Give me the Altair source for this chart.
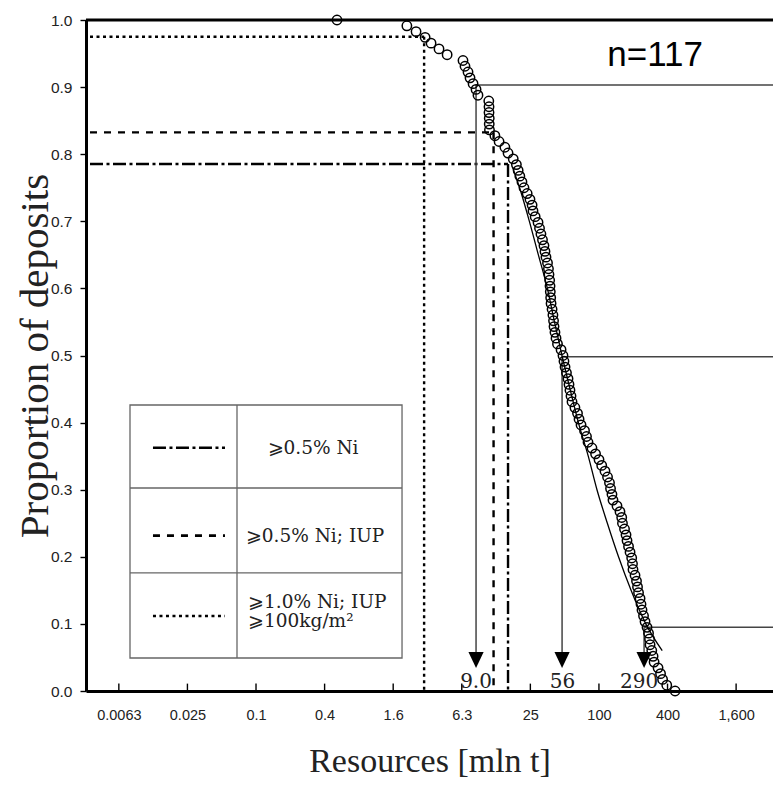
import altair as alt
import pandas as pd

# ---------------- data ----------------
resources = [0.514, 2.11, 2.54, 3.05, 3.44, 4.04, 4.76, 6.56, 6.83, 7.26,
             7.56, 8.04, 8.54, 8.88, 11.05, 11.1, 11.1, 11.15, 11.15, 11.2,
             12.5, 13.6, 15.3, 16.3, 18.1, 19.3, 20.0, 20.7, 21.6, 22.5,
             24.0, 25.4, 26.5, 27.0, 28.2, 29.9, 30.8, 31.7, 32.7, 33.7,
             34.4, 35.1, 36.2, 36.9, 37.3, 37.8, 38.1, 38.3, 38.6, 38.9,
             39.7, 40.4, 40.9, 41.3, 42.1, 43.0, 44.3, 47.6, 49.5, 50.5,
             51.6, 53.1, 54.8, 55.9, 57.0, 58.2, 59.4, 63.0, 66.4, 68.5,
             71.3, 76.5, 79.6, 82.1, 88.9, 95.6, 102.5, 108.3, 115.7, 121.8,
             126.7, 129.4, 133.2, 136.0, 147.5, 156.7, 162.2, 164.7, 171.7, 177.0,
             180.6, 186.2, 192.0, 198.5, 201.7, 203.8, 212.3, 218.8, 223.3, 227.9,
             235.0, 239.6, 244.5, 252.1, 259.9, 270.6, 279.0, 284.8, 287.7, 297.8,
             305.8, 312.1, 338.1, 355.7, 370.6, 403.2, 477.3]

fit_p = [0.78, 0.75, 0.70, 0.65, 0.60, 0.55, 0.50, 0.45, 0.40, 0.35, 0.30, 0.25, 0.20, 0.15, 0.10, 0.06]
fit_x = [17.9, 20.6, 25.1, 30.1, 36.1, 41.7, 48.5, 57.1, 67.6, 82.5, 98.4, 121.4, 152.1, 196.0, 264.0, 368.0]

pct_level = [0.903, 0.498, 0.095]
pct_x = [8.54, 48.6, 255.0]
pct_text = ["9.0", "56", "290"]
pct_text_x = [8.54, 49.1, 230.5]

crit_style = ["dashdot", "dashed", "dotted"]
crit_label = ["⩾0.5% Ni", "⩾0.5% Ni; IUP", "⩾1.0% Ni; IUP"]
crit_x = [16.3, 12.17, 2.99]
crit_p = [0.7854, 0.8326, 0.975]
dash_patterns = [[13, 3.5, 3, 3.5], [7, 7], [3, 3.5]]

tick_values = [0.00625, 0.025, 0.1, 0.4, 1.6, 6.4, 25.6, 102.4, 409.6, 1638.4]
tick_labels = ["0.0063", "0.025", "0.1", "0.4", "1.6", "6.3", "25", "100", "400", "1,600"]
y_ticks = [0.0, 0.1, 0.2, 0.3, 0.4, 0.5, 0.6, 0.7, 0.8, 0.9, 1.0]

x_domain = [0.003218, 3453.0]

# legend box (data coordinates)
box_x = [0.007831, 0.06809, 1.913]
box_y = [0.0492, 0.1759, 0.3025, 0.4262]
legend_sample_x = [0.01246, 0.05341]
legend_sample_y = [0.3626, 0.2315, 0.1118]

# ---------------- chart ----------------
SERIF = "Liberation Serif"
SANS = "Liberation Sans"
XS = alt.Scale(type="log", domain=x_domain, nice=False, zero=False)
YS = alt.Scale(domain=[0, 1], nice=False, zero=False)

label_expr = "".join(
    f"abs(datum.value/{v}-1) < 0.01 ? '{l}' : " for v, l in zip(tick_values, tick_labels)
) + "''"
XA = alt.Axis(values=tick_values, labelExpr=label_expr, ticks=False,
              title="Resources [mln t]", grid=False)
YA = alt.Axis(values=y_ticks, format=".1f", title="Proportion of deposits", grid=False)


def X(f):
    return alt.X(f, type="quantitative", scale=XS, axis=XA)


def Y(f):
    return alt.Y(f, type="quantitative", scale=YS, axis=YA)


pts_df = pd.DataFrame({"resources": resources})
points = (
    alt.Chart(pts_df)
    .transform_window(rank="row_number()", sort=[alt.SortField("resources", order="ascending")])
    .transform_joinaggregate(n="count()")
    .transform_calculate(p="(datum.n - datum.rank) / (datum.n - 1)")
    .mark_point(shape="circle", filled=False, color="black", strokeWidth=1.5, size=88, opacity=1)
    .encode(x=X("resources"), y=Y("p"))
)

fit_df = pd.DataFrame({"x": fit_x, "p": fit_p})
fit = alt.Chart(fit_df).mark_line(color="black", strokeWidth=1.3, interpolate="monotone").encode(
    x=X("x"), y=Y("p"))

pct_df = pd.DataFrame({"x": pct_x, "p": pct_level, "x_end": [x_domain[1]] * 3,
                       "p_arrow": [0.058] * 3, "p_head": [0.0462] * 3,
                       "label": pct_text, "lx": pct_text_x, "lp": [0.0134] * 3})
pct_h = alt.Chart(pct_df).mark_rule(color="#444444", strokeWidth=1.5).encode(
    x=X("x"), x2="x_end:Q", y=Y("p"))
pct_v = alt.Chart(pct_df).mark_rule(color="#444444", strokeWidth=1.5).encode(
    x=X("x"), y=Y("p"), y2="p_arrow:Q")
pct_head = alt.Chart(pct_df).mark_point(shape="M-0.95,-1L0.95,-1L0,1Z", filled=True, color="black",
                                        size=256, opacity=1).encode(x=X("x"), y=Y("p_head"))
pct_lab = alt.Chart(pct_df).mark_text(font="DejaVu Serif", fontSize=20, color="#222222",
                                      baseline="middle").encode(
    x=X("lx"), y=Y("lp"), text="label:N")

crit_df = pd.DataFrame({"style": crit_style, "x": crit_x, "p": crit_p,
                        "x0": [0.003489] * 3, "p0": [0.0] * 3})
dash_scale = alt.Scale(domain=crit_style, range=dash_patterns)
crit_h = alt.Chart(crit_df).mark_rule(color="black", strokeWidth=2.4).encode(
    x=X("x0"), x2="x:Q", y=Y("p"),
    strokeDash=alt.StrokeDash("style:N", scale=dash_scale, legend=None))
crit_v = alt.Chart(crit_df).mark_rule(color="black", strokeWidth=2.4).encode(
    x=X("x"), y=Y("p"), y2="p0:Q",
    strokeDash=alt.StrokeDash("style:N", scale=dash_scale, legend=None))

# x-axis inward tick marks
tick_df = pd.DataFrame({"x": tick_values, "p0": [0.0] * len(tick_values), "p1": [0.011] * len(tick_values)})
xticks = alt.Chart(tick_df).mark_rule(color="black", strokeWidth=1.4).encode(
    x=X("x"), y=Y("p0"), y2="p1:Q")

top_df = pd.DataFrame({"p": [1.0]})
top = alt.Chart(top_df).mark_rule(color="black", strokeWidth=3).encode(y=Y("p"))

# legend box
box_df = pd.DataFrame({"x0": [box_x[0]], "x1": [box_x[2]], "y0": [box_y[0]], "y1": [box_y[3]]})
box = alt.Chart(box_df).mark_rect(fill="white", stroke="#666666", strokeWidth=1.3).encode(
    x=X("x0"), x2="x1:Q", y=Y("y0"), y2="y1:Q")
div_df = pd.DataFrame({
    "x0": [box_x[1], box_x[0], box_x[0]], "x1": [box_x[1], box_x[2], box_x[2]],
    "y0": [box_y[0], box_y[1], box_y[2]], "y1": [box_y[3], box_y[1], box_y[2]]})
dividers = alt.Chart(div_df).mark_rule(color="#666666", strokeWidth=1.3).encode(
    x=X("x0"), x2="x1:Q", y=Y("y0"), y2="y1:Q")
leg_df = pd.DataFrame({"style": crit_style, "x0": [legend_sample_x[0]] * 3,
                       "x1": [legend_sample_x[1]] * 3, "p": legend_sample_y})
leg_lines = alt.Chart(leg_df).mark_rule(color="black", strokeWidth=2.6).encode(
    x=X("x0"), x2="x1:Q", y=Y("p"),
    strokeDash=alt.StrokeDash("style:N", scale=dash_scale, legend=None))

leg_c_df = pd.DataFrame({"t": crit_label[:2], "x": [0.3166, 0.3296], "p": [0.3626, 0.2315]})
leg_c = alt.Chart(leg_c_df).mark_text(font="DejaVu Serif", fontSize=18.5, color="#222222", align="center",
                                      baseline="middle").encode(
    x=X("x"), y=Y("p"), text="t:N")
leg_l_df = pd.DataFrame({"t": [crit_label[2], "⩾100kg/m²"], "x": [0.08507, 0.08507], "p": [0.1326, 0.1043]})
leg_l = alt.Chart(leg_l_df).mark_text(font="DejaVu Serif", fontSize=18.5, color="#222222", align="left",
                                      baseline="middle").encode(
    x=X("x"), y=Y("p"), text="t:N")

n_df = pd.DataFrame({"t": ["n=117"], "x": [318.6], "p": [0.948]})
n_text = alt.Chart(n_df).mark_text(font="Liberation Sans Narrow, Liberation Sans", fontSize=35,
                                   color="black", align="center", baseline="middle").encode(
    x=X("x"), y=Y("p"), text="t:N")

chart = (
    alt.layer(box, dividers, leg_lines, leg_c, leg_l,
              crit_h, crit_v, pct_h, pct_v, fit, points, pct_head, pct_lab, xticks, top, n_text)
    .properties(width=687, height=671,
                autosize=alt.AutoSizeParams(type="none"),
                padding={"left": 78, "top": 12, "right": 0, "bottom": 88},
                background="white")
    .configure_view(stroke=None)
    .configure_axis(domainColor="black", domainWidth=3, tickColor="black", tickWidth=1.4,
                    labelColor="#222222", labelFont=SANS,
                    titleColor="#222222", titleFont=SERIF, titleFontWeight="normal")
    .configure_axisLeft(tickSize=6, labelPadding=8, labelFontSize=15.5, titleFontSize=41,
                        titleX=-51, titleY=335.5, titleBaseline="middle", titleAlign="center")
    .configure_axisBottom(labelPadding=17, labelFontSize=14.5, titleFontSize=34, titleY=80,
                          titleBaseline="alphabetic")
)

chart.save("out.html", embed_options={"renderer": "svg", "actions": False})
